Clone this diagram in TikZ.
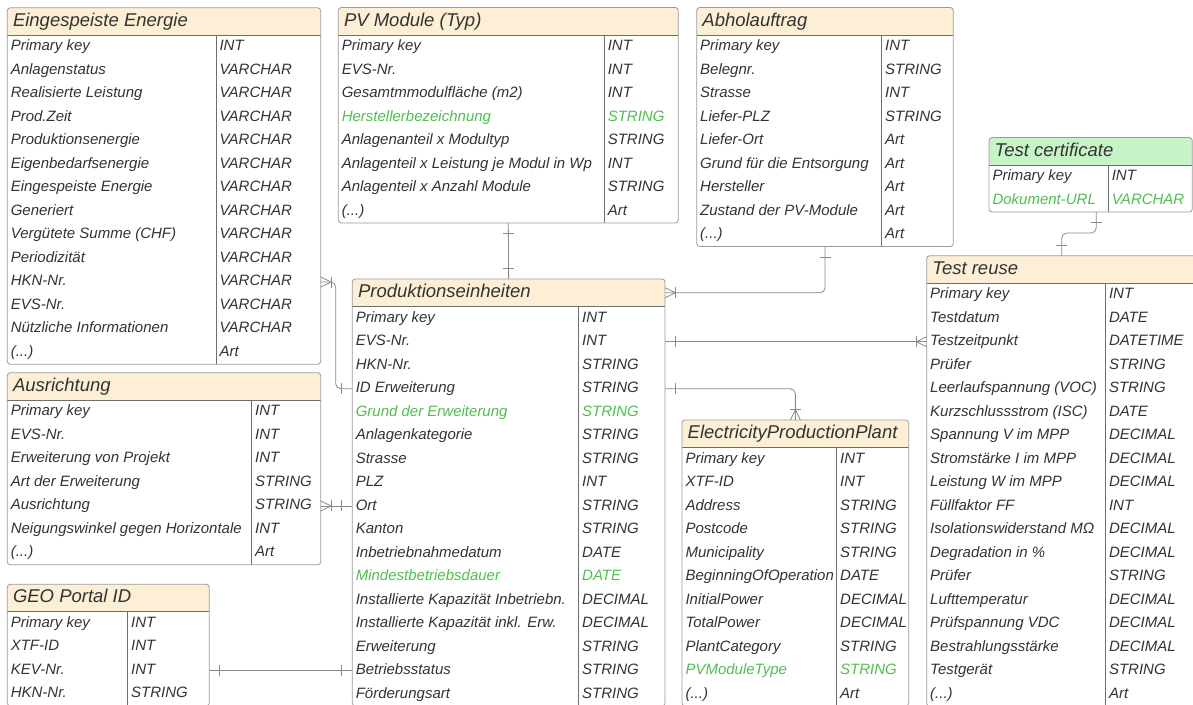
\documentclass[tikz,border=0pt]{standalone}
\usepackage{fontspec}
\setmainfont{Liberation Sans}
\usetikzlibrary{calc}
\definecolor{hdr}{HTML}{FDEFD5}
\definecolor{hdrgreen}{HTML}{C6F4C6}
\definecolor{txt}{HTML}{333333}
\definecolor{grn}{HTML}{4FBF4F}
\definecolor{framec}{HTML}{9A9A9A}
\definecolor{divc}{HTML}{6E6E6E}
\definecolor{lnk}{HTML}{8A8A8A}
\tikzset{
 tabframe/.style={draw=framec, line width=0.8pt, rounded corners=3pt, inner sep=0pt, outer sep=0pt, rectangle},
 hdrline/.style={draw=divc, line width=0.8pt},
 colline/.style={draw=divc, line width=0.8pt},
 ttl/.style={font=\fontsize{18.5}{20}\selectfont\itshape, text=txt, inner sep=0pt},
 rowtxt/.style={font=\fontsize{15}{16}\selectfont\itshape, text=txt, inner sep=0pt},
 grnrow/.style={text=grn},
 stdrow/.style={},
 conn/.style={draw=lnk, line width=0.8pt},
}
% #1 name, #2 x, #3 y, #4 w, #5 divider x, #6 rows, #7 title, #8 header colour
\newcommand\ertable[8]{%
 \pgfmathsetmacro\hb{#3+27.5}%
 \pgfmathsetmacro\bb{#3+27.5+#6*23.5}%
 \pgfmathsetmacro\hh{27.5+#6*23.5}%
 \begin{scope}
 \clip[rounded corners=3pt] (#2,#3) rectangle ({#2+#4},\bb);
 \fill[#8] (#2,#3) rectangle ({#2+#4},\hb);
 \end{scope}
 \draw[hdrline] (#2,\hb) -- ({#2+#4},\hb);
 \draw[colline] (#5,\hb) -- (#5,\bb);
 \node[tabframe, anchor=north west, minimum width=#4pt, minimum height=\hh pt] (#1) at (#2,#3) {};
 \coordinate (#1-h) at (#2,{#3+13.75});
 \node[ttl, anchor=base west] (#1-title) at ({#2+5.5},{#3+18.5}) {#7};
 \xdef\curx{#2}\xdef\curdiv{#5}\xdef\curtop{\hb}\xdef\curname{#1}%
}
\newcommand\errow[4][stdrow]{%
 \coordinate (\curname-c#2) at (\curx,{\curtop+#2*23.5+11.75});
 \node[rowtxt,#1,anchor=base west] (\curname-n#2) at ({\curx+3.3},{\curtop+#2*23.5+15.5}) {#3};
 \node[rowtxt,#1,anchor=base west] (\curname-y#2) at ({\curdiv+3.3},{\curtop+#2*23.5+15.5}) {#4};
}
\newcommand\barmark[2]{%
 \draw[conn] ($(#1)+({#2}:10.5)+({#2+90}:5.5)$) -- ($(#1)+({#2}:10.5)+({#2-90}:5.5)$);}
\newcommand\crowmark[2]{%
 \draw[conn] ($(#1)+({#2+90}:5)$) -- ($(#1)+({#2}:10.5)$) -- ($(#1)+({#2-90}:5)$);
 \draw[conn] ($(#1)+({#2}:10.5)+({#2+90}:5.5)$) -- ($(#1)+({#2}:10.5)+({#2-90}:5.5)$);}

\begin{document}
\begin{tikzpicture}[x=1pt,y=-1pt]
\useasboundingbox (0,0) rectangle (1193,704);
\clip (0,0) rectangle (1193,704);
\fill[white] (0,0) rectangle (1193,704);

% Eingespeiste Energie
\ertable{ee}{7.3}{7.8}{313.4}{216}{14}{Eingespeiste Energie}{hdr}
\errow{0}{Primary key}{INT}
\errow{1}{Anlagenstatus}{VARCHAR}
\errow{2}{Realisierte Leistung}{VARCHAR}
\errow{3}{Prod.Zeit}{VARCHAR}
\errow{4}{Produktionsenergie}{VARCHAR}
\errow{5}{Eigenbedarfsenergie}{VARCHAR}
\errow{6}{Eingespeiste Energie}{VARCHAR}
\errow{7}{Generiert}{VARCHAR}
\errow{8}{Vergütete Summe (CHF)}{VARCHAR}
\errow{9}{Periodizität}{VARCHAR}
\errow{10}{HKN-Nr.}{VARCHAR}
\errow{11}{EVS-Nr.}{VARCHAR}
\errow{12}{Nützliche Informationen}{VARCHAR}
\errow{13}{(...)}{Art}

% PV Module (Typ)
\ertable{pv}{338.3}{7.5}{340}{604.3}{8}{PV Module (Typ)}{hdr}
\errow{0}{Primary key}{INT}
\errow{1}{EVS-Nr.}{INT}
\errow{2}{Gesamtmmodulfläche (m2)}{INT}
\errow[grnrow]{3}{Herstellerbezeichnung}{STRING}
\errow{4}{Anlagenanteil x Modultyp}{STRING}
\errow{5}{Anlagenteil x Leistung je Modul in Wp}{INT}
\errow{6}{Anlagenteil x Anzahl Module}{STRING}
\errow{7}{(...)}{Art}

% Abholauftrag
\ertable{abh}{696.7}{7.5}{256.6}{881.7}{9}{Abholauftrag}{hdr}
\errow{0}{Primary key}{INT}
\errow{1}{Belegnr.}{STRING}
\errow{2}{Strasse}{INT}
\errow{3}{Liefer-PLZ}{STRING}
\errow{4}{Liefer-Ort}{Art}
\errow{5}{Grund für die Entsorgung}{Art}
\errow{6}{Hersteller}{Art}
\errow{7}{Zustand der PV-Module}{Art}
\errow{8}{(...)}{Art}

% Test certificate
\ertable{tc}{989}{137.5}{203.3}{1108.3}{2}{Test certificate}{hdrgreen}
\errow{0}{Primary key}{INT}
\errow[grnrow]{1}{Dokument-URL}{VARCHAR}

% Test reuse
\ertable{tr}{926.7}{255.7}{270}{1105.5}{18}{Test reuse}{hdr}
\errow{0}{Primary key}{INT}
\errow{1}{Testdatum}{DATE}
\errow{2}{Testzeitpunkt}{DATETIME}
\errow{3}{Prüfer}{STRING}
\errow{4}{Leerlaufspannung (VOC)}{STRING}
\errow{5}{Kurzschlussstrom (ISC)}{DATE}
\errow{6}{Spannung V im MPP}{DECIMAL}
\errow{7}{Stromstärke I im MPP}{DECIMAL}
\errow{8}{Leistung W im MPP}{DECIMAL}
\errow{9}{Füllfaktor FF}{INT}
\errow{10}{Isolationswiderstand MΩ}{DECIMAL}
\errow{11}{Degradation in \%}{DECIMAL}
\errow{12}{Prüfer}{STRING}
\errow{13}{Lufttemperatur}{DECIMAL}
\errow{14}{Prüfspannung VDC}{DECIMAL}
\errow{15}{Bestrahlungsstärke}{DECIMAL}
\errow{16}{Testgerät}{STRING}
\errow{17}{(...)}{Art}

% Produktionseinheiten
\ertable{prod}{352.3}{279}{312.7}{578.7}{17}{Produktionseinheiten}{hdr}
\errow{0}{Primary key}{INT}
\errow{1}{EVS-Nr.}{INT}
\errow{2}{HKN-Nr.}{STRING}
\errow{3}{ID Erweiterung}{STRING}
\errow[grnrow]{4}{Grund der Erweiterung}{STRING}
\errow{5}{Anlagenkategorie}{STRING}
\errow{6}{Strasse}{STRING}
\errow{7}{PLZ}{INT}
\errow{8}{Ort}{STRING}
\errow{9}{Kanton}{STRING}
\errow{10}{Inbetriebnahmedatum}{DATE}
\errow[grnrow]{11}{Mindestbetriebsdauer}{DATE}
\errow{12}{Installierte Kapazität Inbetriebn.}{DECIMAL}
\errow{13}{Installierte Kapazität inkl. Erw.}{DECIMAL}
\errow{14}{Erweiterung}{STRING}
\errow{15}{Betriebsstatus}{STRING}
\errow{16}{Förderungsart}{STRING}

% Ausrichtung
\ertable{aus}{7.3}{372.7}{313.4}{251.7}{7}{Ausrichtung}{hdr}
\errow{0}{Primary key}{INT}
\errow{1}{EVS-Nr.}{INT}
\errow{2}{Erweiterung von Projekt}{INT}
\errow{3}{Art der Erweiterung}{STRING}
\errow{4}{Ausrichtung}{STRING}
\errow{5}{Neigungswinkel gegen Horizontale}{INT}
\errow{6}{(...)}{Art}

% GEO Portal ID
\ertable{geo}{7.3}{584.3}{202}{127.7}{4}{GEO Portal ID}{hdr}
\errow{0}{Primary key}{INT}
\errow{1}{XTF-ID}{INT}
\errow{2}{KEV-Nr.}{INT}
\errow{3}{HKN-Nr.}{STRING}

% ElectricityProductionPlant
\ertable{epp}{682}{420}{226.7}{836.7}{11}{ElectricityProductionPlant}{hdr}
\errow{0}{Primary key}{INT}
\errow{1}{XTF-ID}{INT}
\errow{2}{Address}{STRING}
\errow{3}{Postcode}{STRING}
\errow{4}{Municipality}{STRING}
\errow{5}{BeginningOfOperation}{DATE}
\errow{6}{InitialPower}{DECIMAL}
\errow{7}{TotalPower}{DECIMAL}
\errow{8}{PlantCategory}{STRING}
\errow[grnrow]{9}{PVModuleType}{STRING}
\errow{10}{(...)}{Art}

% connectors
\draw[conn] (pv.south) -- (prod.north);
\barmark{pv.south}{90}
\barmark{prod.north}{-90}

\draw[conn, rounded corners=5pt] (ee.east |- ee-c10) -- ++(15,0) |- (prod.west |- prod-c3);
\crowmark{ee.east |- ee-c10}{0}
\barmark{prod.west |- prod-c3}{180}

\draw[conn] (aus.east |- aus-c4) -- (prod.west |- aus-c4);
\crowmark{aus.east |- aus-c4}{0}
\barmark{prod.west |- aus-c4}{180}

\draw[conn] (geo.east |- geo-c2) -- (prod.west |- geo-c2);
\barmark{geo.east |- geo-c2}{0}
\barmark{prod.west |- geo-c2}{180}

\draw[conn, rounded corners=5pt] (abh.south) |- (prod.east |- prod-h);
\barmark{abh.south}{90}
\crowmark{prod.east |- prod-h}{0}

\draw[conn] (prod.east |- prod-c1) -- (tr.west |- prod-c1);
\barmark{prod.east |- prod-c1}{0}
\crowmark{tr.west |- prod-c1}{180}

\draw[conn, rounded corners=5pt] (prod.east |- prod-c3) -| (epp.north);
\barmark{prod.east |- prod-c3}{0}
\crowmark{epp.north}{-90}

\coordinate (tcout) at ($(tc.south)+(5.5,0)$);
\draw[conn, rounded corners=5pt] (tcout) -- ++(0,21) -| (tr.north);
\barmark{tcout}{90}
\barmark{tr.north}{-90}
\end{tikzpicture}
\end{document}
